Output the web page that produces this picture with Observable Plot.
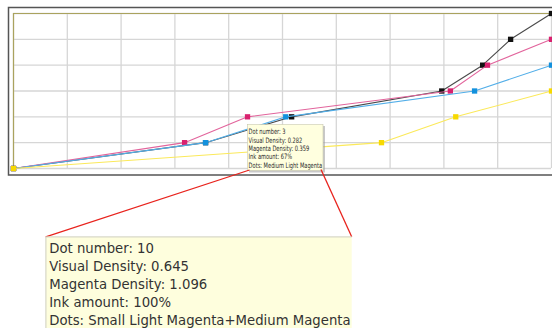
<!DOCTYPE html>
<html>
<head>
<meta charset="utf-8">
<script src="https://cdn.jsdelivr.net/npm/d3@7"></script>
<script src="https://cdn.jsdelivr.net/npm/@observablehq/plot@0.6"></script>
<style>
  html, body { margin: 0; padding: 0; background: #fff; }
  #wrap { position: relative; width: 552px; height: 328px; overflow: hidden; }
  #wrap > svg { position: absolute; left: 0; top: 0; }
</style>
</head>
<body>
<div id="wrap"></div>
<script>
// ---- data (x = ink position 0..100, y = density step 0..6) ----
const blackX   = [0, 35.7, 51.7, 79.6, 87.2, 92.4, 100];
const blackY   = [0, 1, 2, 3, 4, 5, 6];
const magentaX = [0, 31.8, 43.5, 81.2, 88.1, 100];
const magentaY = [0, 1, 2, 3, 4, 5];
const cyanX    = [0, 35.7, 50.6, 85.7, 100];
const cyanY    = [0, 1, 2, 3, 4];
const yellowX  = [0, 68.4, 82.2, 100];
const yellowY  = [0, 1, 2, 3];

const xTicks = [0, 10, 20, 30, 40, 50, 60, 70, 80, 90, 100];
const yTicks = [0, 1, 2, 3, 4, 5, 6];

const smallTipLines = ["Dot number: 3", "Visual Density: 0.282", "Magenta Density: 0.359", "Ink amount: 67%", "Dots: Medium Light Magenta"];
const bigTipLines = ["Dot number: 10", "Visual Density: 0.645", "Magenta Density: 1.096", "Ink amount: 100%", "Dots: Small Light Magenta+Medium Magenta"];

const series = [
  {name: "black",   xs: blackX,   ys: blackY,   line: "#4a4a4a", dot: "#111111"},
  {name: "magenta", xs: magentaX, ys: magentaY, line: "#e2649c", dot: "#d9216f"},
  {name: "cyan",    xs: cyanX,    ys: cyanY,    line: "#52aee8", dot: "#1391dd"},
  {name: "yellow",  xs: yellowX,  ys: yellowY,  line: "#fbe95a", dot: "#f7d900"}
];

const marks = [
  Plot.gridX(xTicks, {stroke: "#d6d6d6", strokeOpacity: 1, strokeWidth: 1.3}),
  Plot.gridY(yTicks, {stroke: "#d6d6d6", strokeOpacity: 1, strokeWidth: 1.3}),
  Plot.ruleY([6], {stroke: "#aaa35e", strokeWidth: 1.2}),
  Plot.ruleX([0], {stroke: "#aaa35e", strokeWidth: 1.2})
];
for (const s of series) {
  const rows = s.xs.map((x, i) => ({x, y: s.ys[i]}));
  marks.push(Plot.line(rows, {x: "x", y: "y", stroke: s.line, strokeWidth: 1.1}));
  marks.push(Plot.dot(rows, {x: "x", y: "y", symbol: "square", r: 3, fill: s.dot, stroke: "none"}));
}

const chart = Plot.plot({
  width: 552, height: 328,
  marginLeft: 13, marginRight: 1, marginTop: 13, marginBottom: 160,
  x: {domain: [0, 100], axis: null},
  y: {domain: [0, 6], axis: null},
  style: {background: "transparent"},
  marks
});
const wrap = document.getElementById("wrap");
wrap.appendChild(chart);

// ---- overlay: outer frame, tooltip, zoom callout ----
const ov = d3.select(wrap).append("svg")
  .attr("width", 552).attr("height", 328)
  .attr("font-family", "'DejaVu Sans', sans-serif");

// outer window frame
ov.append("path").attr("d", "M560,7.5 H8.5 V175 H560")
  .attr("fill", "none").attr("stroke", "#555").attr("stroke-width", 1.5);

function tip(g, lines, box, textX, firstY, lineH, fontSize, fitWidth, color) {
  const t = g.append("g");
  const texts = lines.map((s, i) => t.append("text")
    .attr("x", 0).attr("y", firstY + i * lineH + fontSize * 0.36)
    .attr("font-size", fontSize).attr("fill", color).text(s));
  let w = 0;
  texts.forEach(n => { w = Math.max(w, n.node().getComputedTextLength()); });
  const k = fitWidth / w;
  t.attr("transform", `translate(${textX},0) scale(${k},1)`);
}

// small tooltip
const sg = ov.append("g");
sg.append("rect").attr("x", 249).attr("y", 126).attr("width", 76).attr("height", 46.5)
  .attr("fill", "#9a9a9a").attr("opacity", 0.55);
sg.append("rect").attr("x", 247.5).attr("y", 124.5).attr("width", 75.5).attr("height", 46)
  .attr("fill", "#ffffdf").attr("stroke", "#c8c8b0").attr("stroke-width", 0.6);
tip(sg, smallTipLines, null, 248.6, 131.7, 8.33, 7.4, 73.5, "#2a2a2a");

// red connector lines
ov.append("line").attr("x1", 249.5).attr("y1", 170).attr("x2", 45.7).attr("y2", 236.8)
  .attr("stroke", "#e8231d").attr("stroke-width", 1.3);
ov.append("line").attr("x1", 321).attr("y1", 169.5).attr("x2", 351.7).attr("y2", 236.8)
  .attr("stroke", "#e8231d").attr("stroke-width", 1.3);

// enlarged tooltip
const bg = ov.append("g");
bg.append("rect").attr("x", 45.7).attr("y", 236.7).attr("width", 306).attr("height", 100)
  .attr("fill", "#fefedd");
bg.append("path").attr("d", "M45.9,340 V236.9 H351.7")
  .attr("fill", "none").attr("stroke", "#c9c9bd").attr("stroke-width", 0.9);
tip(bg, bigTipLines, null, 49.2, 247.8, 18.07, 14.6, 301.5, "#333333");
</script>
</body>
</html>
